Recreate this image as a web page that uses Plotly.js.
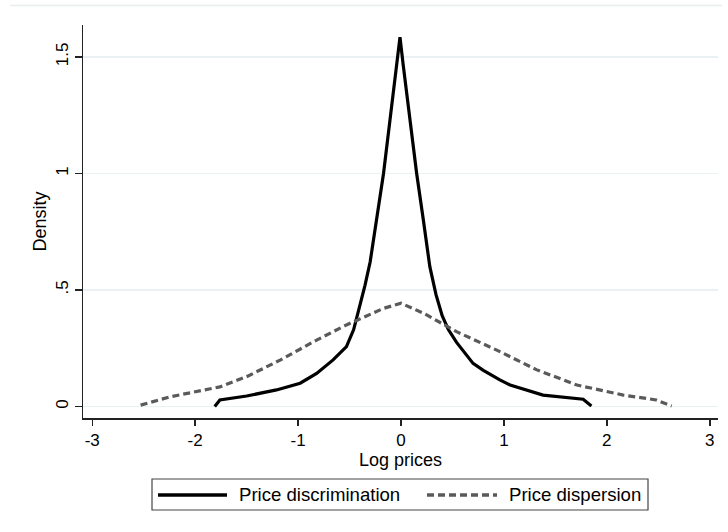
<!DOCTYPE html>
<html>
<head>
<meta charset="utf-8">
<script src="https://cdn.plot.ly/plotly-3.0.1.min.js"></script>
<style>html,body{margin:0;padding:0;background:#fff;}#chart{width:728px;height:532px;}</style>
</head>
<body>
<div id="chart"></div>
<script>
// Price discrimination (solid)
const discX = [-1.81, -1.76, -1.5, -1.21, -0.98, -0.82, -0.66, -0.53, -0.46, -0.40, -0.35, -0.30, -0.236, -0.17, -0.107, -0.042, -0.01, 0.02, 0.087, 0.152, 0.217, 0.28, 0.34, 0.40, 0.46, 0.54, 0.70, 0.80, 0.96, 1.06, 1.38, 1.6, 1.77, 1.85];
const discY = [0.0, 0.028, 0.045, 0.071, 0.10, 0.142, 0.20, 0.257, 0.33, 0.43, 0.52, 0.62, 0.80, 1.0, 1.23, 1.46, 1.585, 1.47, 1.23, 1.0, 0.80, 0.60, 0.48, 0.39, 0.33, 0.275, 0.185, 0.155, 0.114, 0.092, 0.049, 0.038, 0.031, 0.002];
// Price dispersion (dashed)
const dispX = [-2.53, -2.24, -1.76, -1.5, -1.17, -0.82, -0.53, -0.17, 0.0, 0.22, 0.54, 0.93, 1.32, 1.71, 2.16, 2.48, 2.63];
const dispY = [0.006, 0.042, 0.084, 0.128, 0.2, 0.285, 0.35, 0.421, 0.443, 0.40, 0.321, 0.242, 0.157, 0.092, 0.049, 0.028, 0.002];
const xTicks = [-3, -2, -1, 0, 1, 2, 3];
const xTickText = ['-3', '-2', '-1', '0', '1', '2', '3'];
const yTicks = [0, 0.5, 1, 1.5];
const yTickText = ['0', '.5', '1', '1.5'];
const seriesNames = ['Price discrimination', 'Price dispersion'];

const FONT = 'Liberation Sans, Arial, sans-serif';
const traces = [
  {x: discX, y: discY, name: seriesNames[0], type: 'scatter', mode: 'lines',
   line: {color: '#000000', width: 3.2}, showlegend: false},
  {x: dispX, y: dispY, name: seriesNames[1], type: 'scatter', mode: 'lines',
   line: {color: '#5a5a5a', width: 3.2, dash: '7px,4px'}, showlegend: false}
];

// Manual legend (paper coords)
const W = 728, H = 532, L = 83, R = 10, T = 25, B = 114;
const pw = W - L - R, ph = H - T - B;
const px = v => (v - L) / pw;
const py = v => 1 - (v - T) / ph;

const layout = {
  width: W, height: H,
  margin: {l: L, r: R, t: T, b: B},
  paper_bgcolor: '#ffffff', plot_bgcolor: '#ffffff',
  font: {family: FONT, size: 17, color: '#000'},
  xaxis: {
    range: [-3.09, 3.08], tickvals: xTicks, ticktext: xTickText,
    showgrid: false, zeroline: false, showline: true, linecolor: '#222', linewidth: 1.5,
    ticks: 'outside', ticklen: 6, tickwidth: 1.5, tickcolor: '#222',
    tickfont: {family: FONT, size: 17, color: '#000'},
    title: {text: 'Log prices', font: {family: FONT, size: 18, color: '#000'}, standoff: 0}
  },
  yaxis: {
    range: [-0.0494, 1.637], tickvals: yTicks, ticktext: yTickText, tickangle: -90,
    showgrid: true, gridcolor: '#e9f1f2', gridwidth: 1.2, zeroline: false,
    showline: true, linecolor: '#222', linewidth: 1.5,
    ticks: 'outside', ticklen: 7, tickwidth: 1.5, tickcolor: '#222',
    tickfont: {family: FONT, size: 17, color: '#000'},
    title: {text: 'Density', font: {family: FONT, size: 18, color: '#000'}, standoff: 1}
  },
  shapes: [
    {type: 'line', xref: 'paper', yref: 'paper', x0: px(10), x1: px(722), y0: py(5.5), y1: py(5.5),
     line: {color: '#e6eef0', width: 1.5}},
    {type: 'rect', xref: 'paper', yref: 'paper', x0: px(152), x1: px(648), y0: py(479), y1: py(510),
     line: {color: '#444', width: 1.2}, fillcolor: 'rgba(0,0,0,0)'},
    {type: 'line', xref: 'paper', yref: 'paper', x0: px(158), x1: px(227), y0: py(495), y1: py(495),
     line: {color: '#000', width: 3.4}},
    {type: 'line', xref: 'paper', yref: 'paper', x0: px(427), x1: px(497), y0: py(495), y1: py(495),
     line: {color: '#5a5a5a', width: 3.4, dash: '7px,4px'}}
  ],
  annotations: [
    {xref: 'paper', yref: 'paper', x: px(237), y: py(495), xanchor: 'left', yanchor: 'middle',
     text: seriesNames[0], showarrow: false, font: {family: FONT, size: 18.6, color: '#000'}},
    {xref: 'paper', yref: 'paper', x: px(507), y: py(495), xanchor: 'left', yanchor: 'middle',
     text: seriesNames[1], showarrow: false, font: {family: FONT, size: 18.6, color: '#000'}}
  ]
};

Plotly.newPlot('chart', traces, layout, {displayModeBar: false, staticPlot: true});
</script>
</body>
</html>
